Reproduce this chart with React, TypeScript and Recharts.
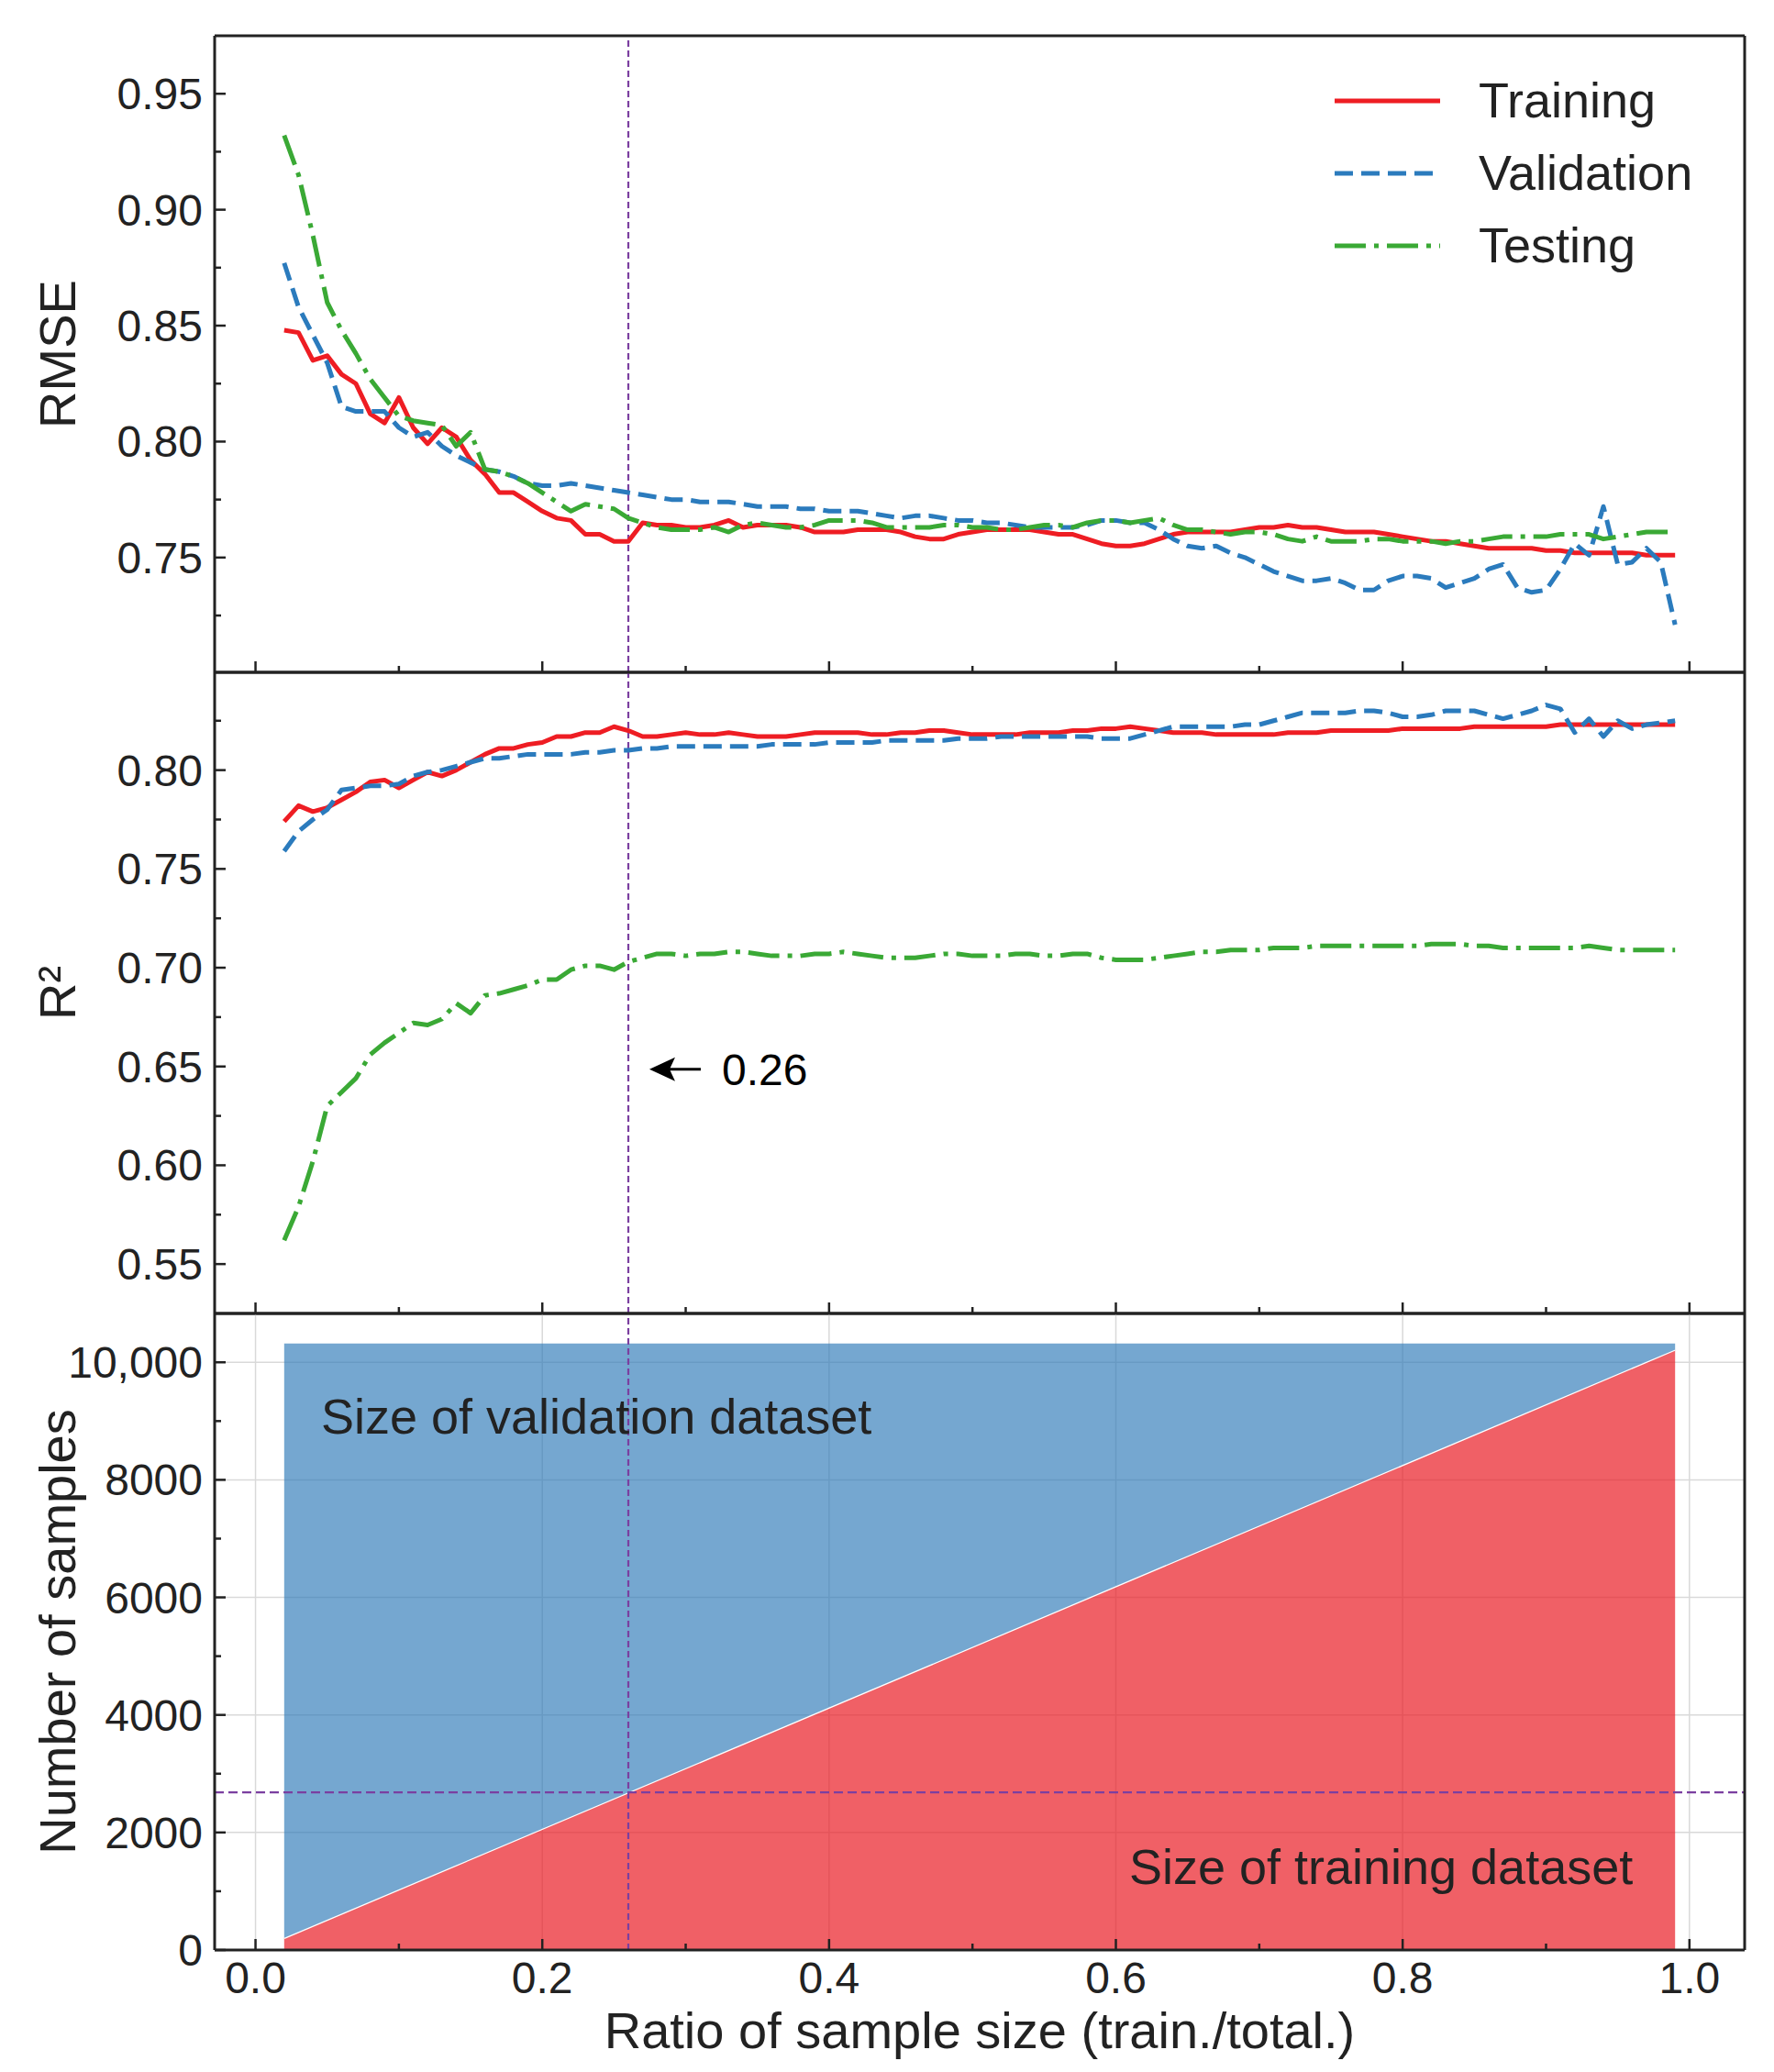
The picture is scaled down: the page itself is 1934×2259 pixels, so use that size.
import React from "react";
import {
  ComposedChart,
  Line,
  Area,
  XAxis,
  YAxis,
  CartesianGrid,
  ReferenceLine,
  ReferenceDot,
  Legend,
} from "recharts";

const FONT = "'Liberation Sans', Arial, Helvetica, sans-serif";
const INK = "#222222";
const RED = "#ee1d23";
const BLUE = "#2b7bbd";
const GREEN = "#3aa935";
const PURPLE = "#7b3fa0";

// ratio of sample size (train./total.)
const ratios = [
  0.02, 0.03, 0.04, 0.05, 0.06, 0.07, 0.08, 0.09, 0.1, 0.11,
  0.12, 0.13, 0.14, 0.15, 0.16, 0.17, 0.18, 0.19, 0.2, 0.21,
  0.22, 0.23, 0.24, 0.25, 0.26, 0.27, 0.28, 0.29, 0.3, 0.31,
  0.32, 0.33, 0.34, 0.35, 0.36, 0.37, 0.38, 0.39, 0.4, 0.41,
  0.42, 0.43, 0.44, 0.45, 0.46, 0.47, 0.48, 0.49, 0.5, 0.51,
  0.52, 0.53, 0.54, 0.55, 0.56, 0.57, 0.58, 0.59, 0.6, 0.61,
  0.62, 0.63, 0.64, 0.65, 0.66, 0.67, 0.68, 0.69, 0.7, 0.71,
  0.72, 0.73, 0.74, 0.75, 0.76, 0.77, 0.78, 0.79, 0.8, 0.81,
  0.82, 0.83, 0.84, 0.85, 0.86, 0.87, 0.88, 0.89, 0.9, 0.91,
  0.92, 0.93, 0.94, 0.95, 0.96, 0.97, 0.98, 0.99,
];

const rmseTrain = [
  0.848, 0.847, 0.835, 0.837, 0.829, 0.825, 0.812, 0.808, 0.819, 0.806,
  0.799, 0.806, 0.802, 0.792, 0.786, 0.778, 0.778, 0.774, 0.77, 0.767,
  0.766, 0.76, 0.76, 0.757, 0.757, 0.765, 0.764, 0.764, 0.763, 0.763,
  0.764, 0.766, 0.763, 0.764, 0.764, 0.764, 0.763, 0.761, 0.761, 0.761,
  0.762, 0.762, 0.762, 0.761, 0.759, 0.758, 0.758, 0.76, 0.761, 0.762,
  0.762, 0.762, 0.762, 0.761, 0.76, 0.76, 0.758, 0.756, 0.755, 0.755,
  0.756, 0.758, 0.76, 0.761, 0.761, 0.761, 0.761, 0.762, 0.763, 0.763,
  0.764, 0.763, 0.763, 0.762, 0.761, 0.761, 0.761, 0.76, 0.759, 0.758,
  0.757, 0.757, 0.756, 0.755, 0.754, 0.754, 0.754, 0.754, 0.753, 0.753,
  0.752, 0.752, 0.752, 0.752, 0.752, 0.751, 0.751, 0.751,
];

const rmseVal = [
  0.877, 0.858, 0.846, 0.834, 0.815, 0.813, 0.813, 0.813, 0.806, 0.802,
  0.804, 0.798, 0.794, 0.791, 0.788, 0.787, 0.785, 0.782, 0.781, 0.781,
  0.782, 0.781, 0.78, 0.779, 0.778, 0.777, 0.776, 0.775, 0.775, 0.774,
  0.774, 0.774, 0.773, 0.772, 0.772, 0.772, 0.771, 0.771, 0.77, 0.77,
  0.77, 0.769, 0.768, 0.767, 0.768, 0.768, 0.767, 0.766, 0.766, 0.765,
  0.765, 0.764, 0.763, 0.763, 0.763, 0.763, 0.764, 0.766, 0.766, 0.765,
  0.765, 0.762, 0.758, 0.755, 0.754, 0.755, 0.752, 0.75, 0.747, 0.744,
  0.742, 0.74, 0.74, 0.741, 0.739, 0.736, 0.736, 0.74, 0.742, 0.742,
  0.741, 0.737, 0.739, 0.741, 0.745, 0.747, 0.737, 0.735, 0.736, 0.745,
  0.756, 0.751, 0.772, 0.747, 0.748, 0.754, 0.748, 0.721,
];

const rmseTest = [
  0.932, 0.915, 0.889, 0.86, 0.848, 0.838, 0.827, 0.819, 0.811, 0.809,
  0.808, 0.807, 0.798, 0.804, 0.788, 0.787, 0.785, 0.782, 0.778, 0.774,
  0.77, 0.773, 0.772, 0.771, 0.767, 0.765, 0.763, 0.762, 0.762, 0.762,
  0.763, 0.761, 0.764, 0.765, 0.764, 0.763, 0.763, 0.764, 0.766, 0.766,
  0.766, 0.765, 0.763, 0.763, 0.763, 0.763, 0.764, 0.764, 0.763, 0.763,
  0.762, 0.762, 0.763, 0.764, 0.764, 0.763, 0.765, 0.766, 0.766, 0.765,
  0.766, 0.767, 0.764, 0.762, 0.762, 0.761, 0.76, 0.761, 0.761, 0.76,
  0.758, 0.757, 0.759, 0.757, 0.757, 0.757, 0.758, 0.758, 0.757, 0.757,
  0.757, 0.756, 0.757, 0.757, 0.758, 0.759, 0.759, 0.759, 0.759, 0.76,
  0.76, 0.76, 0.758, 0.759, 0.76, 0.761, 0.761, 0.761,
];

const r2Train = [
  0.774, 0.782, 0.779, 0.781, 0.785, 0.789, 0.794, 0.795, 0.791, 0.795,
  0.799, 0.797, 0.8, 0.804, 0.808, 0.811, 0.811, 0.813, 0.814, 0.817,
  0.817, 0.819, 0.819, 0.822, 0.82, 0.817, 0.817, 0.818, 0.819, 0.818,
  0.818, 0.819, 0.818, 0.817, 0.817, 0.817, 0.818, 0.819, 0.819, 0.819,
  0.819, 0.818, 0.818, 0.819, 0.819, 0.82, 0.82, 0.819, 0.818, 0.818,
  0.818, 0.818, 0.819, 0.819, 0.819, 0.82, 0.82, 0.821, 0.821, 0.822,
  0.821, 0.82, 0.819, 0.819, 0.819, 0.818, 0.818, 0.818, 0.818, 0.818,
  0.819, 0.819, 0.819, 0.82, 0.82, 0.82, 0.82, 0.82, 0.821, 0.821,
  0.821, 0.821, 0.821, 0.822, 0.822, 0.822, 0.822, 0.822, 0.822, 0.823,
  0.823, 0.823, 0.823, 0.823, 0.823, 0.823, 0.823, 0.823,
];

const r2Val = [
  0.759, 0.769, 0.775, 0.78, 0.79, 0.791, 0.792, 0.792, 0.793, 0.797,
  0.799, 0.8, 0.802, 0.804, 0.806, 0.806, 0.807, 0.808, 0.808, 0.808,
  0.808, 0.809, 0.809, 0.81, 0.81, 0.811, 0.811, 0.812, 0.812, 0.812,
  0.812, 0.812, 0.812, 0.812, 0.813, 0.813, 0.813, 0.813, 0.814, 0.814,
  0.814, 0.814, 0.815, 0.815, 0.815, 0.815, 0.815, 0.816, 0.816, 0.816,
  0.817, 0.817, 0.817, 0.817, 0.817, 0.817, 0.817, 0.816, 0.816, 0.816,
  0.818, 0.82, 0.822, 0.822, 0.822, 0.822, 0.822, 0.823, 0.823, 0.825,
  0.827, 0.829, 0.829, 0.829, 0.829, 0.83, 0.83, 0.829, 0.827, 0.827,
  0.828, 0.83, 0.83, 0.83, 0.828, 0.826, 0.828, 0.83, 0.833, 0.831,
  0.819, 0.826, 0.817, 0.825, 0.821, 0.823, 0.824, 0.825,
];

const r2Test = [
  0.562, 0.579, 0.602, 0.63, 0.637, 0.644, 0.656, 0.662, 0.667, 0.672,
  0.671, 0.674, 0.682, 0.677, 0.686, 0.687, 0.689, 0.691, 0.694, 0.694,
  0.699, 0.701, 0.701, 0.699, 0.703, 0.705, 0.707, 0.707, 0.706, 0.707,
  0.707, 0.708, 0.708, 0.707, 0.706, 0.706, 0.706, 0.707, 0.707, 0.708,
  0.707, 0.706, 0.705, 0.705, 0.705, 0.706, 0.707, 0.707, 0.706, 0.706,
  0.706, 0.707, 0.707, 0.706, 0.706, 0.707, 0.707, 0.705, 0.704, 0.704,
  0.704, 0.705, 0.706, 0.707, 0.708, 0.708, 0.709, 0.709, 0.709, 0.71,
  0.71, 0.71, 0.711, 0.711, 0.711, 0.711, 0.711, 0.711, 0.711, 0.711,
  0.712, 0.712, 0.712, 0.711, 0.711, 0.71, 0.71, 0.71, 0.71, 0.71,
  0.71, 0.711, 0.71, 0.709, 0.709, 0.709, 0.709, 0.709,
];

// bottom panel: dataset sizes at the two ends of the sweep
const sizeRatios = [0.02, 0.99];
const trainSizes = [206, 10215];
const valSizes = [10112, 103];

const cutoffRatio = 0.26;
const cutoffSize = 2683;

const xMajor = [0, 0.2, 0.4, 0.6, 0.8, 1.0];
const xMinor = [0.1, 0.3, 0.5, 0.7, 0.9];
const xLabels = ["0.0", "0.2", "0.4", "0.6", "0.8", "1.0"];

const rmseMajor = [0.75, 0.8, 0.85, 0.9, 0.95];
const rmseMinor = [0.725, 0.775, 0.825, 0.875, 0.925];
const rmseLabels = ["0.75", "0.80", "0.85", "0.90", "0.95"];

const r2Major = [0.55, 0.6, 0.65, 0.7, 0.75, 0.8];
const r2Minor = [0.575, 0.625, 0.675, 0.725, 0.775, 0.825];
const r2Labels = ["0.55", "0.60", "0.65", "0.70", "0.75", "0.80"];

const sizeMajor = [0, 2000, 4000, 6000, 8000, 10000];
const sizeMinor = [1000, 3000, 5000, 7000, 9000];
const sizeLabels = ["0", "2000", "4000", "6000", "8000", "10,000"];

const X_DOMAIN = [-0.0285, 1.0385];

const series = [
  { key: "train", name: "Training", color: RED, dash: undefined as string | undefined },
  { key: "val", name: "Validation", color: BLUE, dash: "20 9" },
  { key: "test", name: "Testing", color: GREEN, dash: "34 9 5 9" },
];

const rmseRows = ratios.map((r, i) => ({ ratio: r, train: rmseTrain[i], val: rmseVal[i], test: rmseTest[i] }));
const r2Rows = ratios.map((r, i) => ({ ratio: r, train: r2Train[i], val: r2Val[i], test: r2Test[i] }));
const sizeRows = sizeRatios.map((r, i) => ({ ratio: r, train: trainSizes[i], val: valSizes[i] }));

const W = 1934;
const H = 2259;
const AXIS = { stroke: INK, strokeWidth: 3 };

const findMajor = (majors: number[], v: number) => majors.findIndex((m) => Math.abs(m - v) < 1e-9);

function xTick(showLabels: boolean) {
  return (props: any) => {
    const { x, y, payload } = props;
    const idx = findMajor(xMajor, payload.value);
    const len = idx >= 0 ? 12 : 7;
    return (
      <g>
        <line x1={x} x2={x} y1={y} y2={y - len} stroke={INK} strokeWidth={2.5} />
        {showLabels && idx >= 0 && (
          <text x={x} y={y + 47} textAnchor="middle" fontSize={48} fontFamily={FONT} fill={INK}>
            {xLabels[idx]}
          </text>
        )}
      </g>
    );
  };
}

function yTick(majors: number[], labels: string[]) {
  return (props: any) => {
    const { x, y, payload } = props;
    const idx = findMajor(majors, payload.value);
    const len = idx >= 0 ? 12 : 7;
    return (
      <g>
        <line x1={x} x2={x + len} y1={y} y2={y} stroke={INK} strokeWidth={2.5} />
        {idx >= 0 && (
          <text x={x - 13} y={y + 17} textAnchor="end" fontSize={48} fontFamily={FONT} fill={INK}>
            {labels[idx]}
          </text>
        )}
      </g>
    );
  };
}

function YTitle(props: any) {
  const vb = props.viewBox || {};
  const cx = (vb.x ?? 0) + 82;
  const cy = (vb.y ?? 0) + (vb.height ?? 0) / 2;
  return (
    <text x={cx} y={cy} transform={`rotate(-90 ${cx} ${cy})`} textAnchor="middle" fontSize={56} fontFamily={FONT} fill={INK}>
      {props.text}
    </text>
  );
}

function XTitle(props: any) {
  const vb = props.viewBox || {};
  return (
    <text x={(vb.x ?? 0) + (vb.width ?? 0) / 2} y={(vb.y ?? 0) + 107} textAnchor="middle" fontSize={56} fontFamily={FONT} fill={INK}>
      {props.text}
    </text>
  );
}

function LegendRows(props: any) {
  const order = (e: any) => series.findIndex((d) => d.key === e.dataKey);
  const payload = [...(props.payload ?? [])].sort((a, b) => order(a) - order(b));
  return (
    <div style={{ fontFamily: FONT, color: INK }}>
      {payload.map((entry: any) => {
        const s = series.find((d) => d.key === entry.dataKey);
        return (
          <div key={entry.value} style={{ display: "flex", alignItems: "center", height: 79 }}>
            <svg width={172} height={12} style={{ flex: "none" }}>
              <line x1={15} x2={130} y1={6} y2={6} stroke={entry.color} strokeWidth={5} strokeDasharray={s?.dash} />
            </svg>
            <span style={{ fontSize: 54, lineHeight: "79px", whiteSpace: "nowrap" }}>{entry.value}</span>
          </div>
        );
      })}
    </div>
  );
}

function cutoffLine(dash: string) {
  return <ReferenceLine x={cutoffRatio} stroke={PURPLE} strokeWidth={2.2} strokeDasharray={dash} />;
}

function seriesLines() {
  return series.map((s) => (
    <Line
      key={s.key}
      type="linear"
      dataKey={s.key}
      name={s.name}
      stroke={s.color}
      strokeWidth={5}
      strokeDasharray={s.dash}
      strokeLinejoin="round"
      dot={false}
      activeDot={false}
      isAnimationActive={false}
    />
  ));
}

// plain spines on the top and right of each panel
function boxAxes(yDomain: number[]) {
  return [
    <XAxis key="xt" xAxisId="top" orientation="top" type="number" domain={X_DOMAIN} height={1} tick={false} tickLine={false} axisLine={AXIS} allowDataOverflow />,
    <YAxis key="yr" yAxisId="right" orientation="right" type="number" domain={yDomain} width={1} tick={false} tickLine={false} axisLine={AXIS} allowDataOverflow />,
  ];
}

const layer: React.CSSProperties = { position: "absolute", left: 0, top: 0 };

export default function App() {
  const rmseDomain = [0.7005, 0.975];
  const r2Domain = [0.525, 0.8495];
  const sizeDomain = [0, 10831];

  return (
    <div style={{ position: "absolute", left: 0, top: 0, width: W, height: H, background: "#fff" }}>
      {/* RMSE panel */}
      <div style={layer}>
        <ComposedChart width={W} height={H} data={rmseRows} margin={{ top: 38, right: 31, left: 0, bottom: H - 734 }}>
          <XAxis dataKey="ratio" type="number" domain={X_DOMAIN} ticks={[...xMajor, ...xMinor]} interval={0} height={1}
            tickSize={0} tickMargin={0} tickLine={false} axisLine={AXIS} tick={xTick(false)} allowDataOverflow />
          <YAxis type="number" domain={rmseDomain} ticks={[...rmseMajor, ...rmseMinor]} interval={0} width={234}
            tickSize={0} tickMargin={0} tickLine={false} axisLine={AXIS} tick={yTick(rmseMajor, rmseLabels)}
            label={<YTitle text="RMSE" />} allowDataOverflow />
          {boxAxes(rmseDomain)}
          {cutoffLine("7 4")}
          {seriesLines()}
          <Legend layout="vertical" align="center" verticalAlign="middle" content={<LegendRows />}
            wrapperStyle={{ left: 1440, top: 70, width: 470 }} />
        </ComposedChart>
      </div>

      {/* R² panel */}
      <div style={layer}>
        <ComposedChart width={W} height={H} data={r2Rows} margin={{ top: 732, right: 31, left: 0, bottom: H - 1433 }}>
          <XAxis dataKey="ratio" type="number" domain={X_DOMAIN} ticks={[...xMajor, ...xMinor]} interval={0} height={1}
            tickSize={0} tickMargin={0} tickLine={false} axisLine={AXIS} tick={xTick(false)} allowDataOverflow />
          <YAxis type="number" domain={r2Domain} ticks={[...r2Major, ...r2Minor]} interval={0} width={234}
            tickSize={0} tickMargin={0} tickLine={false} axisLine={AXIS} tick={yTick(r2Major, r2Labels)}
            label={<YTitle text="R²" />} allowDataOverflow />
          {boxAxes(r2Domain)}
          {cutoffLine("7 4")}
          {seriesLines()}
          <ReferenceDot
            x={0.2747}
            y={0.6486}
            r={0}
            ifOverflow="visible"
            shape={(p: any) => (
              <g>
                <path d={`M${p.cx},${p.cy} L${p.cx + 28},${p.cy - 13} L${p.cx + 22},${p.cy} L${p.cx + 28},${p.cy + 13} Z`} fill="#000" />
                <line x1={p.cx + 20} x2={p.cx + 56} y1={p.cy} y2={p.cy} stroke="#000" strokeWidth={3} />
                <text x={p.cx + 79} y={p.cy + 17} fontSize={48} fontFamily={FONT} fill="#000">0.26</text>
              </g>
            )}
          />
        </ComposedChart>
      </div>

      {/* sample size panel */}
      <div style={layer}>
        <ComposedChart width={W} height={H} data={sizeRows} margin={{ top: 1431, right: 31, left: 0, bottom: 0 }}>
          <CartesianGrid stroke="#d9d9d9" strokeWidth={1.5} horizontalValues={sizeMajor} verticalValues={xMajor} />
          <XAxis dataKey="ratio" type="number" domain={X_DOMAIN} ticks={[...xMajor, ...xMinor]} interval={0} height={133}
            tickSize={0} tickMargin={0} tickLine={false} axisLine={AXIS} tick={xTick(true)}
            label={<XTitle text="Ratio of sample size (train./total.)" />} allowDataOverflow />
          <YAxis type="number" domain={sizeDomain} ticks={[...sizeMajor, ...sizeMinor]} interval={0} width={234}
            tickSize={0} tickMargin={0} tickLine={false} axisLine={AXIS} tick={yTick(sizeMajor, sizeLabels)}
            label={<YTitle text="Number of samples" />} allowDataOverflow />
          {boxAxes(sizeDomain)}
          <Area type="linear" dataKey="train" stackId="s" fill="#ea1d25" fillOpacity={0.7} stroke="#ffffff" strokeWidth={2.5} isAnimationActive={false} />
          <Area type="linear" dataKey="val" stackId="s" fill="#2e7ab8" fillOpacity={0.66} stroke="none" isAnimationActive={false} />
          <ReferenceLine y={cutoffSize} stroke={PURPLE} strokeWidth={2.2} strokeDasharray="10 5" />
          {cutoffLine("7 4")}
          <ReferenceDot x={0.0457} y={8793} r={0} ifOverflow="visible"
            shape={(p: any) => (
              <text x={p.cx} y={p.cy} fontSize={54} fontFamily={FONT} fill={INK}>Size of validation dataset</text>
            )} />
          <ReferenceDot x={0.9606} y={1120} r={0} ifOverflow="visible"
            shape={(p: any) => (
              <text x={p.cx} y={p.cy} textAnchor="end" fontSize={54} fontFamily={FONT} fill={INK}>Size of training dataset</text>
            )} />
        </ComposedChart>
      </div>
    </div>
  );
}
